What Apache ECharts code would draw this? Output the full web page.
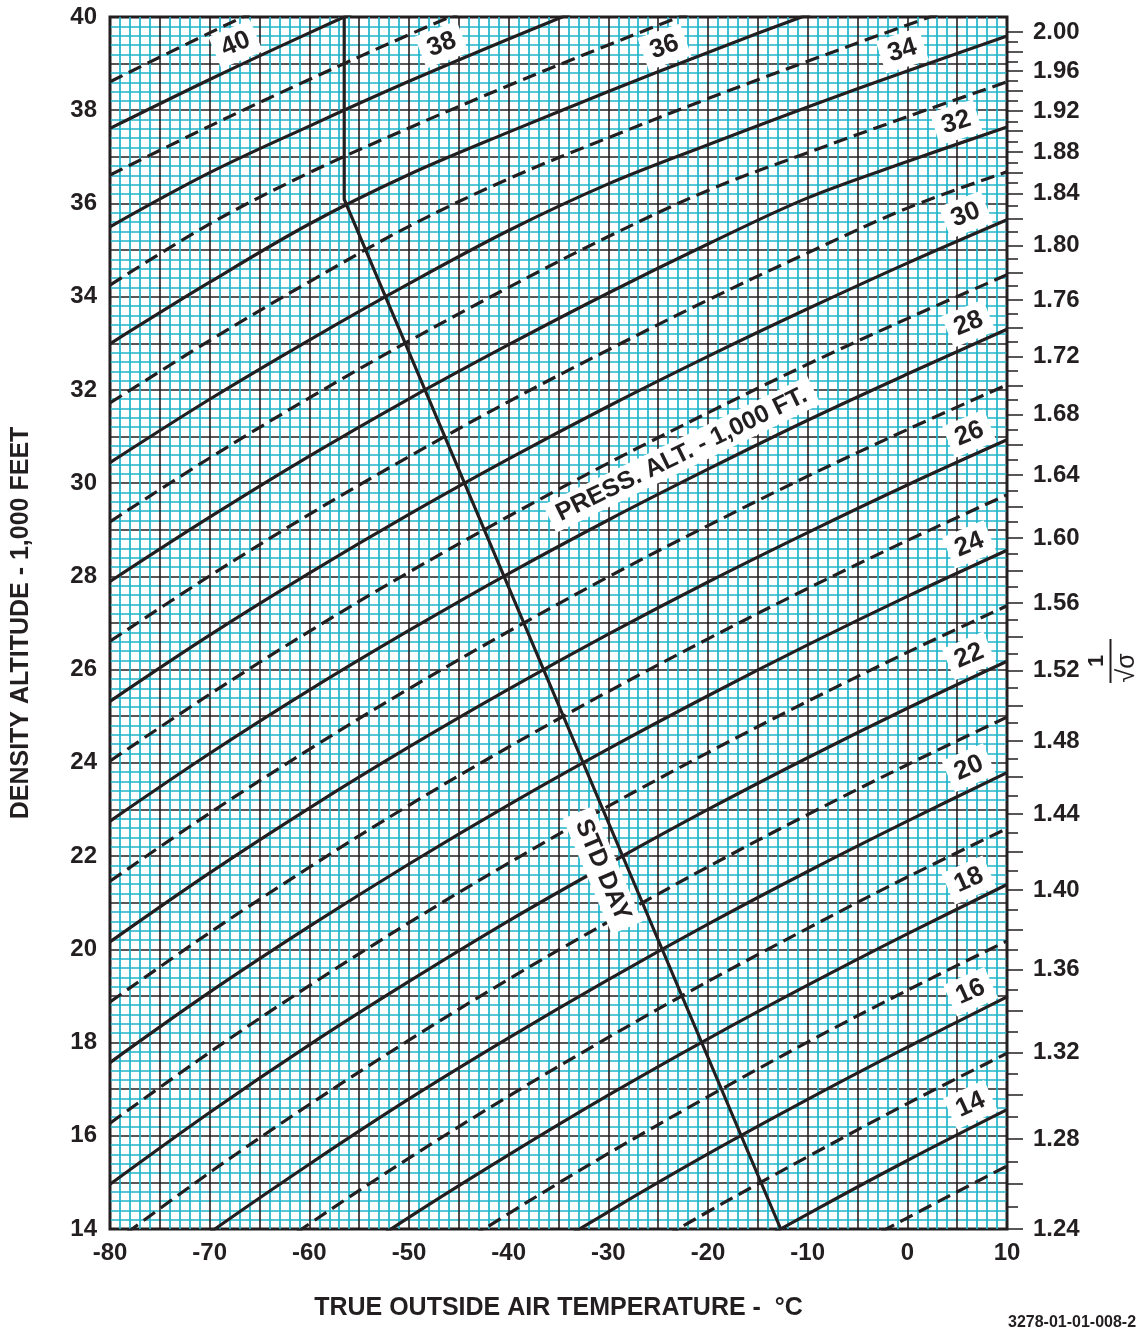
<!DOCTYPE html>
<html>
<head>
<meta charset="utf-8">
<script src="https://cdn.jsdelivr.net/npm/echarts@6/dist/echarts.min.js"></script>
<style>
html,body{margin:0;padding:0;background:#ffffff;}
#chart{width:1145px;height:1333px;}
</style>
</head>
<body>
<div id="chart"></div>
<script>
// ---------------- DATA ----------------
// True outside air temperature (deg C) at which each pressure-altitude curve is sampled
const temperatures = [-80, -70, -60, -50, -40, -30, -20, -10, 0, 10];

// Density altitude (1,000 ft) along each pressure-altitude curve (1,000 ft)
const pressAlt13 = [3.11, 4.79, 6.37, 7.86, 9.27, 10.61, 11.88, 13.09, 14.24, 15.35];
const pressAlt14 = [4.44, 6.10, 7.67, 9.14, 10.54, 11.86, 13.12, 14.32, 15.47, 16.56];
const pressAlt15 = [5.76, 7.41, 8.96, 10.42, 11.81, 13.12, 14.37, 15.55, 16.69, 17.77];
const pressAlt16 = [7.09, 8.72, 10.25, 11.70, 13.07, 14.37, 15.61, 16.78, 17.90, 18.98];
const pressAlt17 = [8.40, 10.02, 11.54, 12.97, 14.33, 15.62, 16.84, 18.01, 19.12, 20.18];
const pressAlt18 = [9.72, 11.32, 12.83, 14.25, 15.59, 16.87, 18.08, 19.23, 20.33, 21.39];
const pressAlt19 = [11.03, 12.62, 14.11, 15.52, 16.85, 18.11, 19.31, 20.45, 21.55, 22.59];
const pressAlt20 = [12.35, 13.92, 15.39, 16.79, 18.10, 19.35, 20.54, 21.67, 22.75, 23.79];
const pressAlt21 = [13.65, 15.21, 16.67, 18.05, 19.36, 20.59, 21.77, 22.89, 23.96, 24.98];
const pressAlt22 = [14.96, 16.50, 17.95, 19.31, 20.61, 21.83, 23.00, 24.11, 25.17, 26.18];
const pressAlt23 = [16.27, 17.79, 19.22, 20.57, 21.85, 23.07, 24.22, 25.32, 26.37, 27.37];
const pressAlt24 = [17.57, 19.08, 20.49, 21.83, 23.10, 24.30, 25.44, 26.53, 27.57, 28.56];
const pressAlt25 = [18.87, 20.36, 21.76, 23.09, 24.34, 25.53, 26.66, 27.74, 28.77, 29.75];
const pressAlt26 = [20.16, 21.64, 23.03, 24.34, 25.58, 26.76, 27.88, 28.94, 29.96, 30.93];
const pressAlt27 = [21.46, 22.92, 24.29, 25.59, 26.82, 27.99, 29.09, 30.15, 31.15, 32.11];
const pressAlt28 = [22.75, 24.20, 25.56, 26.84, 28.06, 29.21, 30.30, 31.35, 32.34, 33.30];
const pressAlt29 = [24.04, 25.47, 26.82, 28.09, 29.29, 30.43, 31.51, 32.55, 33.53, 34.47];
const pressAlt30 = [25.32, 26.74, 28.07, 29.33, 30.52, 31.65, 32.72, 33.74, 34.72, 35.65];
const pressAlt31 = [26.61, 28.01, 29.33, 30.57, 31.75, 32.86, 33.93, 34.94, 35.90, 36.68];
const pressAlt32 = [27.89, 29.27, 30.58, 31.81, 32.97, 34.08, 35.13, 36.12, 36.90, 37.64];
const pressAlt33 = [29.17, 30.54, 31.83, 33.05, 34.20, 35.29, 36.28, 37.09, 37.86, 38.61];
const pressAlt34 = [30.44, 31.80, 33.07, 34.28, 35.42, 36.42, 37.26, 38.07, 38.84, 39.59];
const pressAlt35 = [31.72, 33.06, 34.32, 35.51, 36.53, 37.41, 38.25, 39.05, 39.83, 40.58];
const pressAlt36 = [32.99, 34.31, 35.56, 36.62, 37.53, 38.40, 39.24, 40.05, 40.82, 41.57];
const pressAlt37 = [34.25, 35.56, 36.66, 37.62, 38.53, 39.40, 40.24, 41.05, 41.82, 42.57];
const pressAlt38 = [35.50, 36.66, 37.66, 38.62, 39.53, 40.40, 41.24, 42.05, 42.82, 43.57];
const pressAlt39 = [36.61, 37.66, 38.66, 39.62, 40.53, 41.40, 42.24, 43.05, 43.82, 44.57];
const pressAlt40 = [37.61, 38.66, 39.66, 40.62, 41.53, 42.40, 43.24, 44.05, 44.82, 45.57];
const pressAlt41 = [38.61, 39.66, 40.66, 41.62, 42.53, 43.40, 44.24, 45.05, 45.82, 46.57];

const pressAltLevels = [13,14,15,16,17,18,19,20,21,22,23,24,25,26,27,28,29,30,31,32,33,34,35,36,37,38,39,40,41];
const pressAltCurves = [pressAlt13,pressAlt14,pressAlt15,pressAlt16,pressAlt17,pressAlt18,pressAlt19,pressAlt20,
  pressAlt21,pressAlt22,pressAlt23,pressAlt24,pressAlt25,pressAlt26,pressAlt27,pressAlt28,pressAlt29,pressAlt30,
  pressAlt31,pressAlt32,pressAlt33,pressAlt34,pressAlt35,pressAlt36,pressAlt37,pressAlt38,pressAlt39,pressAlt40,pressAlt41];

// Standard-day line
const stdDayTemp = [-56.5, -56.5, -12.7];
const stdDayAlt  = [40.0, 36.09, 14.0];

// Axis tick labels
const tempTickLabels = ['-80','-70','-60','-50','-40','-30','-20','-10','0','10'];
const altTickLabels  = ['14','16','18','20','22','24','26','28','30','32','34','36','38','40'];

// Right axis: 1/sqrt(sigma) labels and the density altitude (1,000 ft) at which each sits
const sigmaLabels   = ['1.24','1.28','1.32','1.36','1.40','1.44','1.48','1.52','1.56','1.60',
                       '1.64','1.68','1.72','1.76','1.80','1.84','1.88','1.92','1.96','2.00'];
const sigmaLabelAlt = [14.00, 15.93, 17.79, 19.57, 21.27, 22.90, 24.47, 25.98, 27.43, 28.82,
                       30.17, 31.47, 32.72, 33.93, 35.10, 36.21, 37.10, 37.98, 38.84, 39.68];
// long ticks in between (every 0.04, offset by 0.02)
const sigmaMidTickAlt = [14.97, 16.87, 18.69, 20.43, 22.10, 23.70, 25.23, 26.71, 28.13, 29.50,
                         30.82, 32.10, 33.33, 34.52, 35.68, 36.66, 37.55, 38.41, 39.26];
// short ticks at the odd hundredths
const sigmaMinorTickAlt = [14.48, 15.45, 16.40, 17.33, 18.24, 19.13, 20.00, 20.85, 21.69, 22.50,
                           23.30, 24.09, 24.85, 25.61, 26.35, 27.07, 27.78, 28.48, 29.17, 29.84,
                           30.50, 31.15, 31.79, 32.41, 33.03, 33.63, 34.23, 34.81, 35.39, 35.96,
                           36.44, 36.88, 37.33, 37.76, 38.20, 38.63, 39.05, 39.47];

// Curve labels: which pressure-altitude curve, and the temperature along it where its tag sits
const curveLabelLevels = [40, 38, 36, 34, 32, 30, 28, 26, 24, 22, 20, 18, 16, 14];
const curveLabelTemps  = [-66.5, -45.9, -23.6, 0.2, 5.6, 6.7, 7.0, 7.1, 7.1, 7.1, 7.1, 7.1, 7.3, 7.3];

// ---------------- STYLE ----------------
const INK = '#231f20';
const CYAN = '#1fb4ca';
const FONT = '"Liberation Sans", Arial, Helvetica, sans-serif';

const chart = echarts.init(document.getElementById('chart'), null, {renderer: 'canvas'});

function nearestLabel(v, alts, labels) {
  let best = -1, bd = 1e9;
  for (let i = 0; i < alts.length; i++) {
    const d = Math.abs(alts[i] - v);
    if (d < bd) { bd = d; best = i; }
  }
  return (best >= 0 && bd < 0.02) ? labels[best] : '';
}

const series = pressAltLevels.map((lvl, i) => ({
  type: 'line',
  name: 'PA ' + lvl,
  xAxisIndex: 0,
  yAxisIndex: 0,
  data: temperatures.map((t, j) => [t, pressAltCurves[i][j]]),
  symbol: 'none',
  showSymbol: false,
  smooth: 0.35,
  clip: true,
  silent: true,
  z: 3,
  lineStyle: {color: INK, width: 3.2, type: (lvl % 2 === 0) ? 'solid' : [14, 7]}
}));
series.push({
  type: 'line',
  name: 'STD DAY',
  xAxisIndex: 0,
  yAxisIndex: 0,
  data: stdDayTemp.map((t, j) => [t, stdDayAlt[j]]),
  symbol: 'none',
  showSymbol: false,
  clip: true,
  silent: true,
  z: 4,
  lineStyle: {color: INK, width: 3.2}
});

const option = {
  animation: false,
  backgroundColor: '#ffffff',
  grid: {left: 110, right: 138, top: 17, bottom: 104, show: true,
         borderColor: INK, borderWidth: 3, backgroundColor: '#ffffff'},
  xAxis: [{
    type: 'value', min: -80, max: 10, interval: 5, position: 'bottom',
    axisLine: {show: false}, axisTick: {show: false},
    axisLabel: {
      formatter: v => { const i = tempTickLabels.indexOf(String(v)); return i >= 0 ? tempTickLabels[i] : ''; },
      color: INK, fontSize: 24, fontWeight: 'bold', fontFamily: FONT, margin: 12
    },
    splitArea: {show: false},
    splitLine: {show: true, lineStyle: {color: INK, width: 1.6, opacity: 1}},
    minorTick: {show: false, splitNumber: 5},
    minorSplitLine: {show: true, lineStyle: {color: CYAN, width: 1.7, opacity: 1}},
    name: 'TRUE OUTSIDE AIR TEMPERATURE -  \u00B0C',
    nameLocation: 'middle', nameGap: 67,
    nameTextStyle: {color: INK, fontSize: 25, fontWeight: 'bold', fontFamily: FONT}
  }],
  yAxis: [{
    type: 'value', min: 14, max: 40, interval: 1, position: 'left',
    axisLine: {show: false}, axisTick: {show: false},
    axisLabel: {
      formatter: v => { const i = altTickLabels.indexOf(String(v)); return i >= 0 ? altTickLabels[i] : ''; },
      color: INK, fontSize: 24, fontWeight: 'bold', fontFamily: FONT, margin: 13
    },
    splitArea: {show: false},
    splitLine: {show: true, lineStyle: {color: INK, width: 1.6, opacity: 1}},
    minorTick: {show: false, splitNumber: 5},
    minorSplitLine: {show: true, lineStyle: {color: CYAN, width: 1.7, opacity: 1}},
    name: 'DENSITY ALTITUDE - 1,000 FEET',
    nameLocation: 'middle', nameGap: 76, nameRotate: 90,
    nameTextStyle: {color: INK, fontSize: 25, fontWeight: 'bold', fontFamily: FONT}
  }, {
    type: 'value', min: 14, max: 40, position: 'right',
    axisLine: {show: false}, splitLine: {show: false}, splitArea: {show: false},
    axisTick: {show: true, length: 16, customValues: sigmaLabelAlt.concat(sigmaMidTickAlt),
               lineStyle: {color: INK, width: 1.5}},
    axisLabel: {show: true, customValues: sigmaLabelAlt,
                formatter: v => nearestLabel(v, sigmaLabelAlt, sigmaLabels),
                color: INK, fontSize: 24, fontWeight: 'bold', fontFamily: FONT, margin: 26}
  }, {
    type: 'value', min: 14, max: 40, position: 'right',
    axisLine: {show: false}, splitLine: {show: false}, splitArea: {show: false},
    axisTick: {show: true, length: 11, customValues: sigmaMinorTickAlt,
               lineStyle: {color: INK, width: 1.5}},
    axisLabel: {show: false}
  }],
  series: series
};
chart.setOption(option);

// ---------------- annotations tied to the curves ----------------
function px(t, h) { return chart.convertToPixel({xAxisIndex: 0, yAxisIndex: 0}, [t, h]); }
function interpCurve(arr, t) {
  for (let i = 0; i < temperatures.length - 1; i++) {
    if (t >= temperatures[i] && t <= temperatures[i + 1]) {
      const f = (t - temperatures[i]) / (temperatures[i + 1] - temperatures[i]);
      return arr[i] + (arr[i + 1] - arr[i]) * f;
    }
  }
  return arr[arr.length - 1];
}
function tagAlong(text, arr, t, dist, fontSize, pad, angleFactor) {
  const ta = Math.max(-80, t - 3), tb = Math.min(10, t + 3);
  const p = px(t, interpCurve(arr, t));
  const p1 = px(ta, interpCurve(arr, ta)), p2 = px(tb, interpCurve(arr, tb));
  let dx = p2[0] - p1[0], dy = p2[1] - p1[1];
  const len = Math.hypot(dx, dy); dx /= len; dy /= len;
  const cx = p[0] + dist * dy, cy = p[1] - dist * dx;  // normal toward upper-left
  return {
    type: 'text', x: cx, y: cy, rotation: Math.atan2(-dy, dx) * angleFactor, z: 100, silent: true,
    style: {text: text, font: 'bold ' + fontSize + 'px ' + FONT, fill: INK,
            align: 'center', verticalAlign: 'middle', textAlign: 'center', textVerticalAlign: 'middle',
            backgroundColor: '#ffffff', padding: pad}
  };
}

const graphics = [];
curveLabelLevels.forEach((lvl, k) => {
  const arr = pressAltCurves[pressAltLevels.indexOf(lvl)];
  graphics.push(tagAlong(String(lvl), arr, curveLabelTemps[k], 21, 26, [4, 8], 0.9));
});
// PRESS. ALT. label above the 28 curve
graphics.push(tagAlong('PRESS. ALT. - 1,000 FT.', pressAlt28, -21.5, 25, 25, [3, 9], 0.97));

// STD DAY label, left of the standard-day line
(function () {
  const hAnchor = 21.9;
  const f = (stdDayAlt[1] - hAnchor) / (stdDayAlt[1] - stdDayAlt[2]);
  const tAnchor = stdDayTemp[1] + (stdDayTemp[2] - stdDayTemp[1]) * f;
  const p = px(tAnchor, hAnchor);
  const a = px(stdDayTemp[1], stdDayAlt[1]), b = px(stdDayTemp[2], stdDayAlt[2]);
  let dx = b[0] - a[0], dy = b[1] - a[1];
  const len = Math.hypot(dx, dy); dx /= len; dy /= len;
  const dist = 24;
  graphics.push({
    type: 'text', x: p[0] - dist * dy, y: p[1] + dist * dx, rotation: Math.atan2(-dy, dx), z: 100, silent: true,
    style: {text: 'STD DAY', font: 'bold 25px ' + FONT, fill: INK,
            align: 'center', verticalAlign: 'middle', textAlign: 'center', textVerticalAlign: 'middle',
            backgroundColor: '#ffffff', padding: [4, 9]}
  });
})();

// Right axis title 1/sqrt(sigma), rotated
graphics.push({type: 'text', x: 1097, y: 661, rotation: Math.PI / 2, z: 100, silent: true,
  style: {text: '1', font: 'bold 22px ' + FONT, fill: INK, align: 'center', verticalAlign: 'middle',
          textAlign: 'center', textVerticalAlign: 'middle'}});
graphics.push({type: 'line', z: 100, silent: true, shape: {x1: 1110.5, y1: 639, x2: 1110.5, y2: 683},
  style: {stroke: INK, lineWidth: 2}});
graphics.push({type: 'text', x: 1127, y: 668, rotation: Math.PI / 2, z: 100, silent: true,
  style: {text: '\u221A\u03C3', font: '25px ' + FONT, fill: INK, align: 'center', verticalAlign: 'middle',
          textAlign: 'center', textVerticalAlign: 'middle'}});

// Figure number
graphics.push({type: 'text', x: 1008, y: 1323, z: 100, silent: true,
  style: {text: '3278-01-01-008-2', font: 'bold 16px ' + FONT, fill: INK, align: 'left', verticalAlign: 'middle',
          textAlign: 'left', textVerticalAlign: 'middle'}});

chart.setOption({graphic: graphics});
</script>
</body>
</html>
